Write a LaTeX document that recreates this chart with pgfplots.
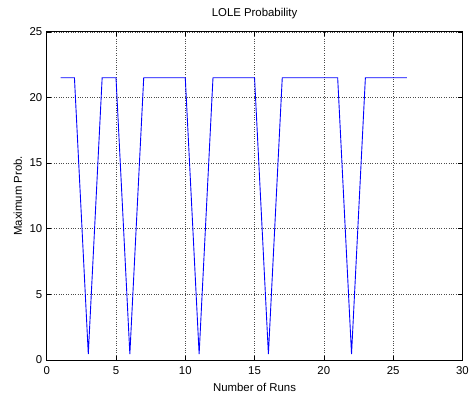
\documentclass[border=0pt]{standalone}
\usepackage{fontspec}
\setmainfont{Liberation Sans}
\usepackage{pgfplots}
\pgfplotsset{compat=1.18}
\begin{document}
\begin{tikzpicture}
\begin{axis}[
  scale only axis,
  width=418bp, height=330bp,
  xmin=0, xmax=30, ymin=0, ymax=25,
  xtick={0,5,...,30}, ytick={0,5,...,25},
  grid=major,
  major grid style={black!70, dotted, line width=0.6pt},
  tick align=inside,
  major tick length=4bp,
  axis line style={black, line width=0.8pt},
  tick style={black, line width=0.5pt},
  font=\fontsize{11.5}{13}\selectfont,
  ticklabel style={font=\fontsize{11.5}{13}\selectfont},
  /pgf/number format/assume math mode=true,
  xticklabel style={anchor=base, yshift=-15bp},
  yticklabel style={anchor=east, xshift=-1bp},
  title={LOLE Probability},
  title style={at={(axis description cs:0.5,1.0273)}, anchor=base},
  xlabel={Number of Runs},
  ylabel={Maximum Prob.},
  xlabel style={at={(axis description cs:0.5,-0.097)}, anchor=base},
  ylabel style={at={(axis description cs:-0.0598,0.5)}, anchor=base},
]
\addplot[blue, line width=0.9pt, mark=none] coordinates {
(1,21.5)(2,21.5)(3,0.45)(4,21.5)(5,21.5)(6,0.45)(7,21.5)(8,21.5)(9,21.5)(10,21.5)
(11,0.45)(12,21.5)(13,21.5)(14,21.5)(15,21.5)(16,0.45)(17,21.5)(18,21.5)(19,21.5)
(20,21.5)(21,21.5)(22,0.45)(23,21.5)(24,21.5)(25,21.5)(26,21.5)
};
\end{axis}
\useasboundingbox ([xshift=-47bp,yshift=-34bp]current axis.south west) rectangle ([xshift=7bp,yshift=32bp]current axis.north east);
\end{tikzpicture}
\end{document}
